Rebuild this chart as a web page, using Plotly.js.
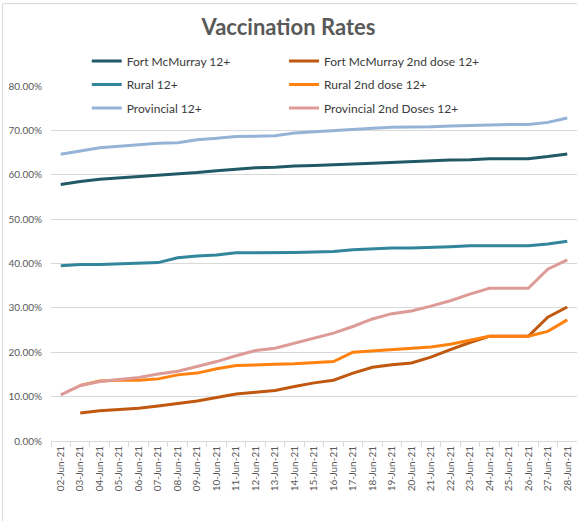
<!DOCTYPE html>
<html>
<head>
<meta charset="utf-8">
<script src="https://cdn.plot.ly/plotly-3.0.1.min.js"></script>
<style>
html,body{margin:0;padding:0;background:#fff;}
#chart{width:577px;height:521px;}
</style>
</head>
<body>
<div id="chart"></div>
<script>
var dates = ["02-Jun-21","03-Jun-21","04-Jun-21","05-Jun-21","06-Jun-21","07-Jun-21","08-Jun-21","09-Jun-21","10-Jun-21","11-Jun-21","12-Jun-21","13-Jun-21","14-Jun-21","15-Jun-21","16-Jun-21","17-Jun-21","18-Jun-21","19-Jun-21","20-Jun-21","21-Jun-21","22-Jun-21","23-Jun-21","24-Jun-21","25-Jun-21","26-Jun-21","27-Jun-21","28-Jun-21"];

var fortMcMurray12 = [0.578,0.585,0.590,0.593,0.595,0.598,0.601,0.605,0.609,0.613,0.616,0.617,0.620,0.621,0.622,0.624,0.626,0.628,0.630,0.631,0.633,0.634,0.636,0.636,0.636,0.641,0.647];
var fortMcMurray2nd = [null,0.063,0.068,0.071,0.074,0.079,0.084,0.090,0.098,0.106,0.110,0.114,0.123,0.131,0.137,0.153,0.166,0.172,0.176,0.189,0.206,0.222,0.236,0.236,0.236,0.279,0.302];
var rural12 = [0.395,0.398,0.398,0.399,0.400,0.402,0.413,0.417,0.419,0.424,0.424,0.424,0.425,0.426,0.427,0.431,0.433,0.435,0.435,0.436,0.438,0.440,0.440,0.440,0.440,0.444,0.450];
var rural2nd = [null,0.125,0.135,0.137,0.137,0.140,0.149,0.153,0.163,0.170,0.172,0.173,0.174,0.176,0.179,0.200,0.203,0.206,0.208,0.212,0.218,0.227,0.236,0.236,0.236,0.247,0.273];
var provincial12 = [0.646,0.653,0.661,0.664,0.668,0.671,0.672,0.679,0.682,0.686,0.687,0.688,0.694,0.697,0.700,0.703,0.705,0.707,0.707,0.708,0.710,0.711,0.713,0.713,0.713,0.718,0.728];
var provincial2nd = [0.104,0.125,0.134,0.138,0.143,0.151,0.157,0.168,0.179,0.192,0.204,0.209,0.220,0.232,0.243,0.258,0.275,0.287,0.293,0.304,0.316,0.331,0.344,0.344,0.344,0.387,0.408];

var seriesNames = ["Fort McMurray 12+","Fort McMurray 2nd dose 12+","Rural 12+","Rural 2nd dose 12+","Provincial 12+","Provincial 2nd Doses 12+"];
var seriesValues = [fortMcMurray12, fortMcMurray2nd, rural12, rural2nd, provincial12, provincial2nd];
var seriesColors = ["#215967","#c0580f","#31869b","#ff820f","#95b3d7","#dd9b97"];
var seriesLegend = ["legend","legend2","legend","legend2","legend","legend2"];

var traces = seriesNames.map(function(n,i){
  return {
    type:"scatter", mode:"lines", name:n, x:dates, y:seriesValues[i],
    line:{color:seriesColors[i], width:3},
    legend:seriesLegend[i], legendgroup:"g"+i,
    connectgaps:false, hoverinfo:"x+y+name"
  };
});

var legendCommon = {
  orientation:"v", bgcolor:"rgba(0,0,0,0)", borderwidth:0,
  font:{family:"Lato, 'Open Sans', sans-serif", size:12, color:"#3a3a3a"},
  tracegroupgap:4.5, xanchor:"left", yanchor:"top", itemwidth:30, traceorder:"grouped"
};

var layout = {
  width:577, height:521,
  paper_bgcolor:"#ffffff", plot_bgcolor:"#ffffff",
  margin:{l:51, r:0, t:85.5, b:79.5},
  font:{family:"Lato, 'Open Sans', sans-serif", color:"#595959"},
  title:{text:"<b>Vaccination Rates</b>", x:0.5, xref:"container", xanchor:"center", y:0.948, yref:"container", yanchor:"middle",
         font:{family:"Lato, 'Open Sans', sans-serif", size:22, color:"#595959"}},
  showlegend:true,
  legend:Object.assign({}, legendCommon, {x:0.068, y:1.111}),
  legend2:Object.assign({}, legendCommon, {x:0.443, y:1.111}),
  xaxis:{type:"category", range:[-0.5,26.5], tickangle:-90, tickson:"boundaries",
         ticks:"outside", ticklen:5, tickcolor:"#d9d9d9", showline:true, linecolor:"#d9d9d9", linewidth:1,
         showgrid:false, tickfont:{size:10, color:"#595959"}, fixedrange:true},
  yaxis:{range:[0,0.8], dtick:0.1, tickformat:".2%", showgrid:true, gridcolor:"#d9d9d9", gridwidth:1,
         zeroline:false, showline:false, ticks:"", ticklabelstandoff:8,
         tickfont:{size:10, color:"#595959"}, fixedrange:true},
  shapes:[
    {type:"line", xref:"paper", yref:"paper", x0:-0.092, x1:1.05, y0:1.232, y1:1.232, line:{color:"#d9d9d9", width:1}},
    {type:"line", xref:"paper", yref:"paper", x0:-0.092, x1:-0.092, y0:1.232, y1:-0.3, line:{color:"#d9d9d9", width:1}}
  ]
};

Plotly.newPlot("chart", traces, layout, {displayModeBar:false, staticPlot:true});
</script>
</body>
</html>
